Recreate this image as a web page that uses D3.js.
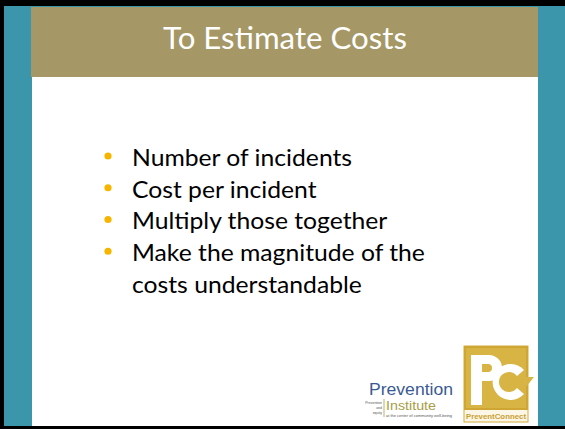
<!DOCTYPE html>
<html>
<head>
<meta charset="utf-8">
<script src="https://cdn.jsdelivr.net/npm/d3@7"></script>
<style>
  html, body { margin: 0; padding: 0; background: #fff; }
  svg { display: block; }
</style>
</head>
<body>
<svg id="slide" width="565" height="429"></svg>
<script>
// slide content
const titleText = "To Estimate Costs";
const bullets = [
    ["Number of incidents"],
    ["Cost per incident"],
    ["Multiply those together"],
    ["Make the magnitude of the", "costs understandable"]
];
const logoLeft = ["Prevention", "Institute"];
const logoLeftSmall = ["Prevention", "and", "equity"];
const logoLeftTag = "at the center of community well-being";
const logoRight = "PreventConnect";

const W = 565, H = 429;
const svg = d3.select("#slide");

// frame
svg.append("rect").attr("width", W).attr("height", H).attr("fill", "#000");
svg.append("rect").attr("x", 4).attr("y", 6).attr("width", W - 4).attr("height", 420)
    .attr("fill", "#3b96ab");
svg.append("rect").attr("x", 32).attr("y", 77).attr("width", 506).attr("height", 349)
    .attr("fill", "#fff");
svg.append("rect").attr("x", 31).attr("y", 7).attr("width", 507).attr("height", 70)
    .attr("fill", "#a59766");

// title
const title = svg.append("text")
    .attr("x", 163).attr("y", 49)
    .attr("fill", "#fff")
    .style("font-family", "Lato, 'Open Sans', sans-serif")
    .style("font-size", "30px")
    .text(titleText);
title.attr("textLength", 244).attr("lengthAdjust", "spacingAndGlyphs");

// flatten bullet lines
let lines = [];
bullets.forEach((b, i) => b.forEach((t, j) => lines.push({text: t, first: j === 0})));

const y = d3.scaleLinear().domain([0, lines.length - 1]).range([166, 293]);

const body = svg.append("g")
    .style("font-family", "Lato, 'Open Sans', sans-serif")
    .style("font-size", "24px")
    .attr("fill", "#000");

const txt = body.selectAll("text.line")
    .data(lines)
    .enter()
    .append("text")
    .attr("class", "line")
    .attr("x", 0)
    .attr("y", (d, i) => y(i))
    .text(d => d.text);

// squeeze horizontally so widths match the Calibri look
let widest = d3.max(txt.nodes(), n => n.getComputedTextLength());
let sx = 293 / widest;
txt.attr("transform", (d, i) => `translate(132,0) scale(${sx},1)`);

body.selectAll("circle")
    .data(lines.map((d, i) => ({...d, i})).filter(d => d.first))
    .enter()
    .append("circle")
    .attr("cx", 108)
    .attr("cy", d => y(d.i) - 10)
    .attr("r", 3.6)
    .attr("fill", "#f7b500");

// Prevention Institute logo
const pi = svg.append("g").style("font-family", "'Liberation Sans', Arial, sans-serif");
pi.append("text").attr("x", 369).attr("y", 395)
    .attr("fill", "#3a5a96")
    .style("font-size", "16px")
    .attr("textLength", 84).attr("lengthAdjust", "spacingAndGlyphs")
    .text(logoLeft[0]);
pi.append("text").attr("x", 386).attr("y", 410)
    .attr("fill", "#a99d45")
    .style("font-size", "12px")
    .attr("textLength", 50).attr("lengthAdjust", "spacingAndGlyphs")
    .text(logoLeft[1]);
pi.append("line").attr("x1", 384).attr("x2", 384).attr("y1", 399).attr("y2", 417)
    .attr("stroke", "#a99d45").attr("stroke-width", 0.8);
pi.selectAll("text.small")
    .data(logoLeftSmall)
    .enter()
    .append("text")
    .attr("class", "small")
    .attr("x", 382)
    .attr("y", (d, i) => 404 + i * 5)
    .attr("text-anchor", "end")
    .attr("fill", "#555")
    .style("font-size", "3.5px")
    .text(d => d);
pi.append("text").attr("x", 386).attr("y", 417)
    .attr("fill", "#555")
    .style("font-size", "3.5px")
    .attr("textLength", 66).attr("lengthAdjust", "spacingAndGlyphs")
    .text(logoLeftTag);

// PreventConnect logo
const pc = svg.append("g");
pc.append("rect").attr("x", 464).attr("y", 346).attr("width", 64).attr("height", 76)
    .attr("fill", "#fbf6e6").attr("stroke", "#d4ad3c").attr("stroke-width", 1);
pc.append("rect").attr("x", 464).attr("y", 346).attr("width", 64).attr("height", 64)
    .attr("fill", "#cfa634");
pc.append("rect").attr("x", 466).attr("y", 348).attr("width", 60).attr("height", 60)
    .attr("fill", "#d8b444");
// C with arrow
pc.append("path")
    .attr("d", "M524,370 A18,18 0 1 0 524,394 L517,388 A10,10 0 1 1 517,376 Z")
    .attr("fill", "#fff");
pc.append("path")
    .attr("d", "M512,377 L534,377 L522,392 Z")
    .attr("fill", "#d8b444");
// P
pc.append("path")
    .attr("d", "M471,355 L489,355 A13,13 0 0 1 489,381 L482,381 L482,405 L471,405 Z M482,364 L482,372 L488,372 A4,4 0 0 0 488,364 Z")
    .attr("fill", "#fff").attr("fill-rule", "evenodd");
pc.append("text").attr("x", 496).attr("y", 419)
    .attr("text-anchor", "middle")
    .attr("fill", "#c9a030")
    .style("font-family", "'Liberation Sans', Arial, sans-serif")
    .style("font-size", "8px")
    .style("font-weight", "bold")
    .attr("textLength", 60).attr("lengthAdjust", "spacingAndGlyphs")
    .text(logoRight);
</script>
</body>
</html>
